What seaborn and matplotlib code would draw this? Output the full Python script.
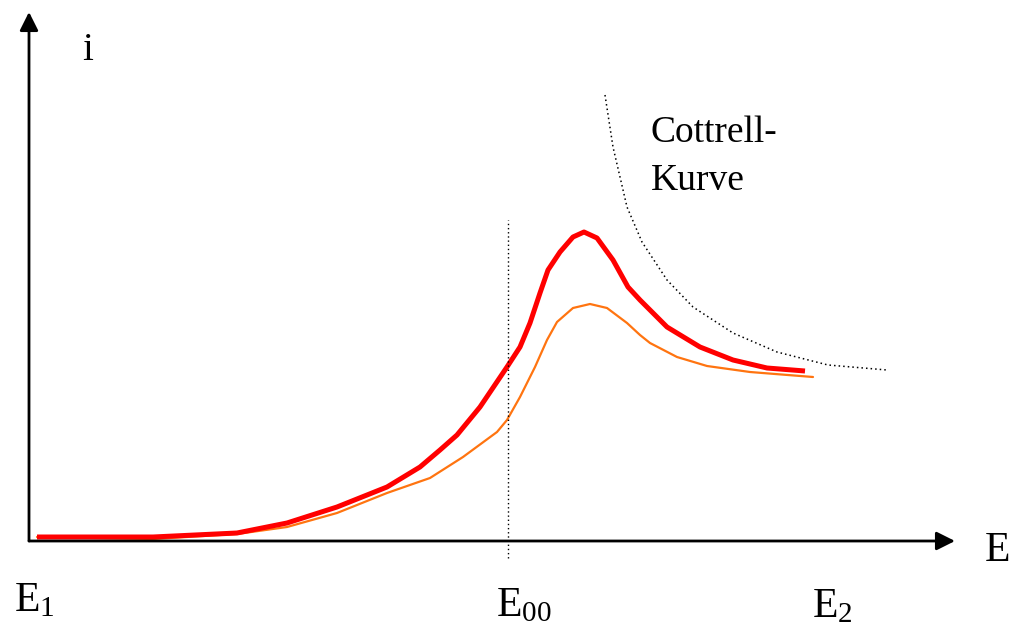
import pandas as pd
import matplotlib
matplotlib.use("Agg")
import matplotlib.pyplot as plt
import seaborn as sns

# Values (E and i in arbitrary units, origin at axis crossing)
red_E = [8, 124, 208, 258, 308, 358, 391, 411, 428, 451, 478, 491, 501, 511,
         519, 531, 544, 555, 568, 584, 599, 611, 638, 671, 704, 738, 776]
red_i = [4, 4, 8, 18, 34, 54, 74, 91, 106, 134, 174, 194, 218, 248,
         271, 289, 304, 309, 303, 281, 254, 241, 214, 194, 181, 173, 170]

orange_E = [8, 124, 208, 258, 308, 358, 401, 434, 468, 478, 491, 506, 518, 528,
            544, 561, 578, 598, 611, 621, 648, 678, 721, 784]
orange_i = [4, 2, 7, 14, 28, 48, 63, 84, 109, 121, 144, 174, 201, 219,
            233, 237, 233, 218, 206, 198, 184, 175, 169, 164]

cottrell_E = [576, 584, 598, 613, 638, 664, 704, 748, 799, 858]
cottrell_i = [446, 394, 334, 299, 261, 234, 208, 189, 176, 171]

E00 = 479
vline_i = [-17, 321]

red_df = pd.DataFrame({"E": red_E, "i": red_i})
orange_df = pd.DataFrame({"E": orange_E, "i": orange_i})
cott_df = pd.DataFrame({"E": cottrell_E, "i": cottrell_i})

sns.set_theme(style="white")
plt.rcParams["font.family"] = ["Liberation Serif", "DejaVu Serif"]
plt.rcParams["text.color"] = "black"
plt.rcParams["mathtext.fontset"] = "custom"
plt.rcParams["mathtext.rm"] = "Liberation Serif"
plt.rcParams["mathtext.it"] = "Liberation Serif"

fig = plt.figure(figsize=(10.13, 6.28), dpi=100)
ax = fig.add_axes([0, 0, 1, 1])
ax.set_xlim(-29, 984)
ax.set_ylim(-87, 541)
ax.axis("off")

# curves
sns.lineplot(data=orange_df, x="E", y="i", sort=False, color="#ff7410", lw=1.6,
             solid_joinstyle="round", ax=ax)
sns.lineplot(data=red_df, x="E", y="i", sort=False, color="#ff0000", lw=3.6,
             solid_joinstyle="round", solid_capstyle="butt", ax=ax)
sns.lineplot(data=cott_df, x="E", y="i", sort=False, color="black", lw=1.1,
             linestyle=(0, (1, 2)), ax=ax)
ax.plot([E00, E00], vline_i, color="black", lw=1.0, linestyle=(0, (1, 2)))

# axes with arrows
arrow = dict(arrowstyle="-|>", lw=2, color="black", mutation_scale=28, shrinkA=0, shrinkB=0)
ax.annotate("", xy=(926, 0), xytext=(0, 0), arrowprops=arrow)
ax.annotate("", xy=(0, 529), xytext=(0, 0), arrowprops=arrow)

# labels
ax.text(59, 491, "i", fontsize=28, ha="center", va="center")
ax.text(968, -10, "E", fontsize=30, ha="center", va="center")
ax.text(-15, -60, r"$\mathrm{E}_{1}$", fontsize=30, ha="left", va="center")
ax.text(E00 - 12, -65, r"$\mathrm{E}_{00}$", fontsize=30, ha="left", va="center")
ax.text(783, -66, r"$\mathrm{E}_{2}$", fontsize=30, ha="left", va="center")
ax.text(622, 408, "Cottrell-", fontsize=27, ha="left", va="center")
ax.text(622, 360, "Kurve", fontsize=27, ha="left", va="center")

fig.savefig("out.png", dpi=100)
